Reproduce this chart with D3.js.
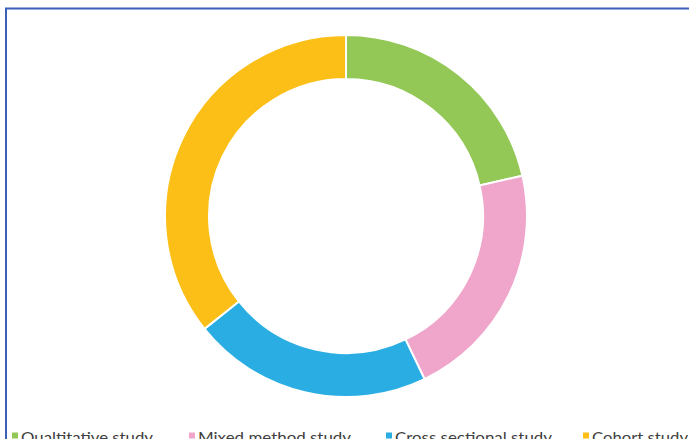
<!DOCTYPE html>
<html>
<head>
<meta charset="utf-8">
<script src="https://cdn.jsdelivr.net/npm/d3@7"></script>
<style>
  html, body { margin: 0; padding: 0; background: #fff; }
  svg { display: block; }
</style>
</head>
<body>
<svg id="chart" width="689" height="439"></svg>
<script>
// Study designs and number of studies of each kind
const categories = ["Qualtitative study", "Mixed method study", "Cross sectional study", "Cohort study"];
const counts = [6, 6, 6, 10];
const colors = ["#93c856", "#efa6ca", "#2aade2", "#fcbf17"];

const W = 689, H = 439;
const svg = d3.select("#chart");

// frame around the chart area
svg.append("rect")
  .attr("x", 6).attr("y", 8.5)
  .attr("width", W + 20).attr("height", H + 20)
  .attr("fill", "none")
  .attr("stroke", "#3d5fba")
  .attr("stroke-width", 2);

const cx = 346, cy = 216;
const outerR = 181, innerR = 137;

const pie = d3.pie().sort(null).value(d => d.value);
const arc = d3.arc().innerRadius(innerR).outerRadius(outerR);

const data = categories.map((c, i) => ({ name: c, value: counts[i], color: colors[i] }));

svg.append("g")
  .attr("transform", `translate(${cx},${cy})`)
  .selectAll("path")
  .data(pie(data))
  .join("path")
  .attr("d", arc)
  .attr("fill", d => d.data.color)
  .attr("stroke", "#fff")
  .attr("stroke-width", 2);

// legend along the bottom edge
const legendX = [12, 189, 386, 583];
const legendW = [132, 153, 157, 96];
const legend = svg.append("g");
data.forEach((d, i) => {
  legend.append("rect")
    .attr("x", legendX[i]).attr("y", 432.5)
    .attr("width", 6).attr("height", 6)
    .attr("fill", d.color);
  legend.append("text")
    .attr("x", legendX[i] + 9).attr("y", 443)
    .attr("font-family", "Lato, 'Open Sans', sans-serif")
    .attr("font-size", 15.5)
    .attr("fill", "#404040")
    .attr("textLength", legendW[i])
    .attr("lengthAdjust", "spacingAndGlyphs")
    .text(d.name);
});
</script>
</body>
</html>
